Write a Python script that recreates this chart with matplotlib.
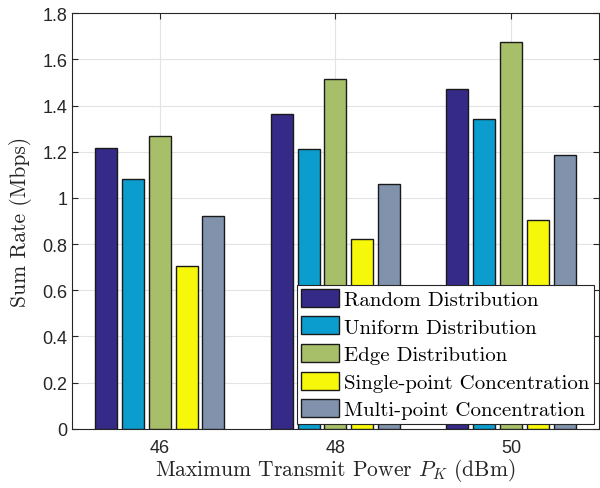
import numpy as np
import matplotlib.pyplot as plt

plt.rcParams['mathtext.fontset'] = 'cm'
plt.rcParams['axes.unicode_minus'] = False

# data
powers = [46, 48, 50]
series = ['Random Distribution', 'Uniform Distribution', 'Edge Distribution',
          'Single-point Concentration', 'Multi-point Concentration']
random_dist = [1.214, 1.362, 1.470]
uniform_dist = [1.084, 1.210, 1.340]
edge_dist = [1.266, 1.513, 1.674]
single_conc = [0.707, 0.824, 0.906]
multi_conc = [0.922, 1.062, 1.188]
values = [random_dist, uniform_dist, edge_dist, single_conc, multi_conc]
colors = ['#352a87', '#0a9dce', '#a6bf68', '#f7f70a', '#8193ac']

fig = plt.figure(figsize=(6, 4.89), dpi=100)
ax = fig.add_axes([0.12, 0.121, 0.878, 0.85])

x = np.array(powers, dtype=float)
step = 0.305
width = 0.25
for k, (vals, c, name) in enumerate(zip(values, colors, series)):
    ax.bar(x + (k - 2) * step, vals, width, color=c, edgecolor='#1a1a1a',
           linewidth=1.0, label=name, zorder=3)

ax.set_xlim(45, 51)
ax.set_ylim(0, 1.8)
ax.set_xticks(powers)
ax.set_yticks(np.arange(0, 1.81, 0.2))
ax.set_yticklabels(['0', '0.2', '0.4', '0.6', '0.8', '1', '1.2', '1.4', '1.6', '1.8'])
ax.tick_params(direction='in', top=True, right=True, labelsize=13,
               colors='#262626', length=4, width=0.8)
ax.tick_params(axis='x', pad=7)
for t in ax.get_xticklabels() + ax.get_yticklabels():
    t.set_family(['Liberation Sans', 'DejaVu Sans'])
for s in ax.spines.values():
    s.set_color('#262626')
    s.set_linewidth(0.8)
ax.grid(True, color='#e3e3e3', linewidth=0.8, zorder=0)
ax.set_axisbelow(True)

ax.set_ylabel('Sum Rate (Mbps)', family='cmr10', fontsize=15.5,
              color='#262626', labelpad=7)
ax.set_xlabel(r'Maximum Transmit Power $P_K$ (dBm)', family='cmr10',
              fontsize=15.5, color='#262626', labelpad=0)

leg = ax.legend(loc='lower right', prop={'family': 'cmr10', 'size': 15},
                fancybox=False, edgecolor='#262626', framealpha=1,
                borderaxespad=0.25, handlelength=1.8, handleheight=0.95,
                handletextpad=0.25, labelspacing=0.36, borderpad=0.2)
leg.get_frame().set_linewidth(0.8)

fig.savefig('out.png', dpi=100)
